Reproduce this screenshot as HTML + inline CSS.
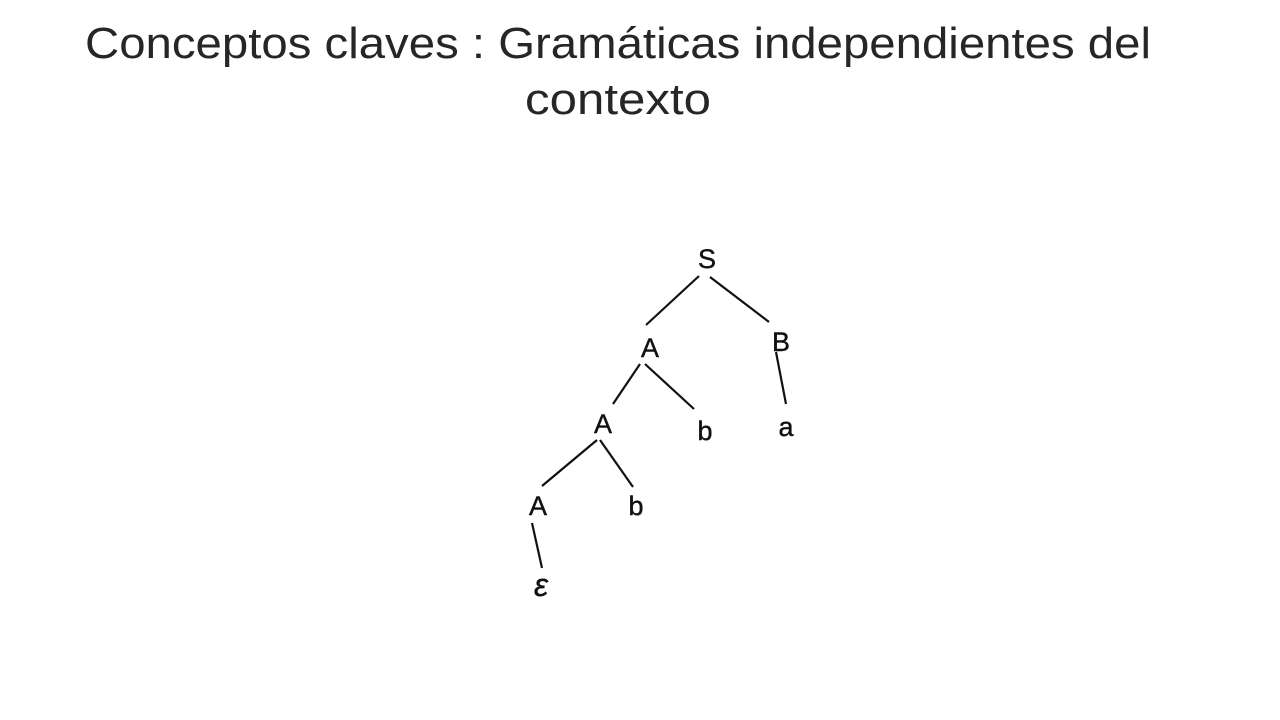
<!DOCTYPE html>
<html><head><meta charset="utf-8"><style>
html,body{margin:0;padding:0;background:#fff;width:1280px;height:720px;overflow:hidden}
svg{display:block}
</style></head><body>
<svg width="1280" height="720">
<text x="618" y="58" text-anchor="middle" font-family="Liberation Sans, sans-serif" font-size="44" fill="#262626" textLength="1066" lengthAdjust="spacingAndGlyphs">Conceptos claves : Gramáticas independientes del</text>
<text x="618" y="114" text-anchor="middle" font-family="Liberation Sans, sans-serif" font-size="44" fill="#262626" textLength="186" lengthAdjust="spacingAndGlyphs">contexto</text>
<g id="tree"></g>
</svg>
<script>
const labels=["S","A","B","A","b","a","A","b","ε"];
const xs=[707,650,781,603,705,786,538,636,541];
const ys=[258,347,341,423,430,426,505,505,586];
const edges=[[0,1,699,276,646,325],[0,2,710,277,769,322],[1,3,640,364,613,404],[1,4,645,364,694,409],[2,5,776,352,786,404],[3,6,597,440,542,486],[3,7,600,440,633,487],[6,8,532,523,542,568]];
const g=document.getElementById('tree');const ns="http://www.w3.org/2000/svg";
edges.forEach(e=>{const l=document.createElementNS(ns,'line');
l.setAttribute('x1',e[2]);l.setAttribute('y1',e[3]);l.setAttribute('x2',e[4]);l.setAttribute('y2',e[5]);
l.setAttribute('stroke','#111');l.setAttribute('stroke-width','2.2');


g.appendChild(l);});
labels.forEach((t,i)=>{const tx=document.createElementNS(ns,'text');
tx.setAttribute('x',xs[i]);tx.setAttribute('y',ys[i]+10);tx.setAttribute('text-anchor','middle');
tx.setAttribute('font-family','Liberation Sans, sans-serif');tx.setAttribute('font-size',t==='ε'?'32':'27');
if(t==='ε')tx.setAttribute('font-style','italic');
tx.setAttribute('fill','#111');tx.setAttribute('stroke','#111');tx.setAttribute('stroke-width','0.4');tx.textContent=t;


g.appendChild(tx);});
</script>
</body></html>
